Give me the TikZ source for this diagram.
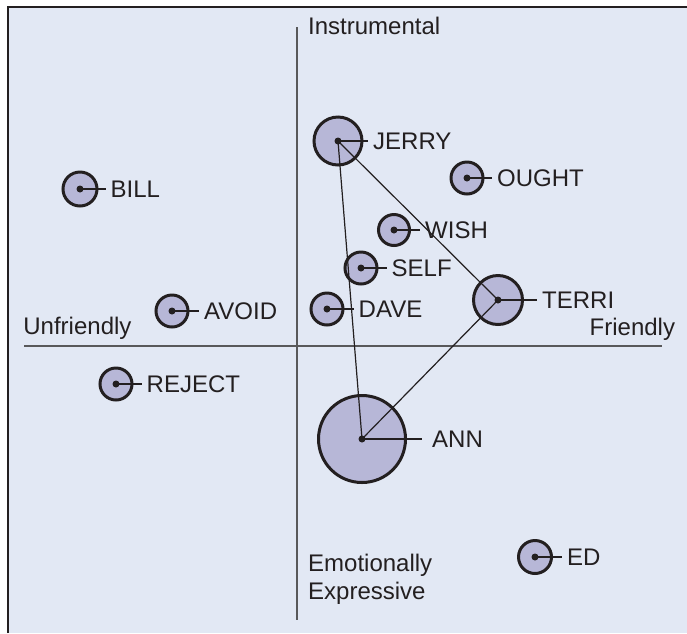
\documentclass[tikz,border=0pt]{standalone}
\usepackage{fontspec}
\setmainfont{Liberation Sans}
\definecolor{bgblue}{HTML}{E2E8F4}
\definecolor{disc}{HTML}{B7B7D7}
\definecolor{ink}{HTML}{231F20}
\definecolor{axisgray}{HTML}{58585A}
\tikzset{
  person/.style={circle, draw=ink, line width=3pt, fill=disc, inner sep=0pt, minimum size=#1},
  lbl/.style={anchor=west, inner xsep=5pt, inner ysep=0pt, text=ink, font=\fontsize{24}{27.6}\selectfont},
  axislbl/.style={anchor=base west, inner sep=0pt, text=ink, align=left, font=\fontsize{24}{27.6}\selectfont},
  tick/.style={draw=ink, line width=1.6pt},
  tri/.style={draw=ink, line width=1.2pt},
  axis/.style={draw=axisgray, line width=1.6pt}
}
\begin{document}
\begin{tikzpicture}[x=1pt, y=-1pt]
\useasboundingbox (0,0) rectangle (687,633);
\path [fill=bgblue] (8,7) rectangle (687,633);
\draw [ink, line width=1.5pt] (8,633) -- (8,7) -- (687,7);

% axes and their labels
\draw [axis] (297,27) -- (297,620);
\draw [axis] (24,346) -- (662,346);
\node[axislbl] (instr) at (308,34.3) {Instrumental};
\node[axislbl] (unfr) at (23.2,334) {Unfriendly};
\node[axislbl] (fr) at (589.5,335) {Friendly};
\node[axislbl] (emo) at (308,599.3) {Emotionally\\Expressive};

% persons
\draw 	(338,141) node[person=48](jerry){}  (498,300) node[person=49](terri){}
		(362,439) node[person=87](ann){}    (467,178) node[person=32](ought){}
		(394,230) node[person=31](wish){}   (361,268) node[person=32](self){}
		(327,309) node[person=32](dave){}   (535,557) node[person=33](ed){}
		(80,189)  node[person=34](bill){}   (172,311) node[person=32](avoid){}
		(116,384) node[person=32](reject){};

\path[-]
    (jerry.center) edge[tri] (ann.center)
    (jerry.center) edge[tri] (terri.center)
    (terri.center) edge[tri] (ann.center);

% names
\node[lbl] (jerryl) at (368,141) {JERRY};
\node[lbl] (terril) at (537,300) {TERRI};
\node[lbl, inner xsep=10pt] (annl) at (422,439) {ANN};
\node[lbl] (oughtl) at (492,178) {OUGHT};
\node[lbl] (wishl) at (420,230) {WISH};
\node[lbl] (selfl) at (386.5,268) {SELF};
\node[lbl] (davel) at (353.5,309) {DAVE};
\node[lbl] (edl) at (562,557) {ED};
\node[lbl] (billl) at (105.5,189) {BILL};
\node[lbl] (avoidl) at (199,311) {AVOID};
\node[lbl] (rejectl) at (141.5,384) {REJECT};

\draw[tick] (jerry.center) -- (jerryl.west)  (terri.center) -- (terril.west)
            (ann.center) -- (annl.west)      (ought.center) -- (oughtl.west)
            (wish.center) -- (wishl.west)    (self.center) -- (selfl.west)
            (dave.center) -- (davel.west)    (ed.center) -- (edl.west)
            (bill.center) -- (billl.west)    (avoid.center) -- (avoidl.west)
            (reject.center) -- (rejectl.west);

\fill[ink] (jerry.center) circle (3.5pt)  (terri.center) circle (3.5pt)
           (ann.center) circle (3.5pt)    (ought.center) circle (3.5pt)
           (wish.center) circle (3.5pt)   (self.center) circle (3.5pt)
           (dave.center) circle (3.5pt)   (ed.center) circle (3.5pt)
           (bill.center) circle (3.5pt)   (avoid.center) circle (3.5pt)
           (reject.center) circle (3.5pt);
\end{tikzpicture}
\end{document}
